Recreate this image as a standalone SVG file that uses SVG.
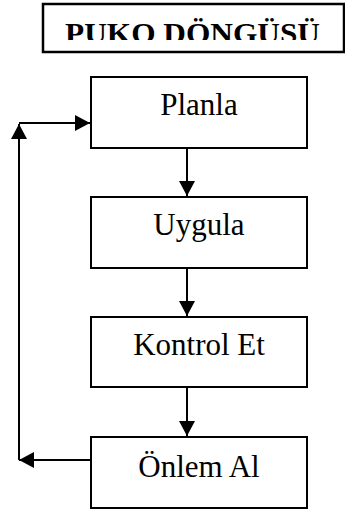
<svg xmlns="http://www.w3.org/2000/svg" width="345" height="511" viewBox="0 0 345 511">
<style>
.box{fill:#fff;stroke:#000;stroke-width:2}
.lbl{font-size:31px;fill:#000;text-anchor:middle}
.title{font-size:30px;font-weight:bold;fill:#000}
.conn{stroke:#000;stroke-width:2;fill:none;marker-end:url(#ah)}
</style>
<defs>
<marker id="ah" markerUnits="userSpaceOnUse" markerWidth="16" markerHeight="16" refX="15" refY="8" orient="auto">
<path d="M0,0 L15,8 L0,16 z" fill="#000"/>
</marker>
<clipPath id="tc"><rect x="44" y="5" width="299" height="35"/></clipPath>
</defs>
<rect width="345" height="511" fill="#fff"/>
<g id="title">
<rect x="43" y="4" width="301" height="48" fill="#fff" stroke="#000" stroke-width="2.5"/>
<text class="title" font-family="'Liberation Serif', 'DejaVu Serif', serif" x="65" y="43" textLength="255" lengthAdjust="spacingAndGlyphs" clip-path="url(#tc)">PUKO DÖNGÜSÜ</text>
</g>
<g id="connectors">
<line class="conn" x1="187" y1="148" x2="187" y2="196"/>
<line class="conn" x1="187" y1="268" x2="187" y2="316"/>
<line class="conn" x1="187" y1="387" x2="187" y2="436"/>
<line class="conn" x1="90" y1="460" x2="19" y2="460"/>
<line class="conn" x1="19" y1="460" x2="19" y2="124"/>
<line class="conn" x1="19" y1="123" x2="90" y2="123"/>
</g>
<g id="planla" font-family="'Liberation Serif', 'DejaVu Serif', serif">
<rect class="box" x="91" y="77" width="216" height="71"/>
<text class="lbl" x="199" y="115">Planla</text>
</g>
<g id="uygula" font-family="'Liberation Serif', 'DejaVu Serif', serif">
<rect class="box" x="91" y="197" width="216" height="71"/>
<text class="lbl" x="199" y="235">Uygula</text>
</g>
<g id="kontrol" font-family="'Liberation Serif', 'DejaVu Serif', serif">
<rect class="box" x="91" y="317" width="216" height="70"/>
<text class="lbl" x="199" y="355">Kontrol Et</text>
</g>
<g id="onlem" font-family="'Liberation Serif', 'DejaVu Serif', serif">
<rect class="box" x="91" y="437" width="216" height="71"/>
<text class="lbl" x="199" y="477">Önlem Al</text>
</g>
</svg>
